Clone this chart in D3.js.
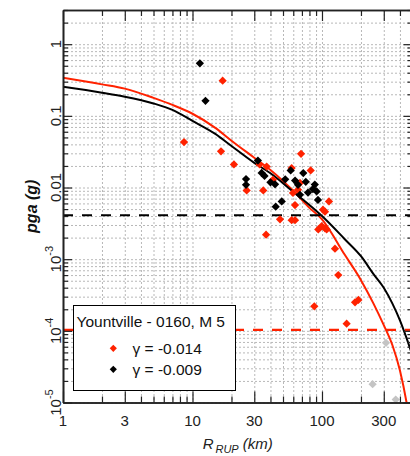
<!DOCTYPE html>
<html>
<head>
<meta charset="utf-8">
<script src="https://cdn.jsdelivr.net/npm/d3@7"></script>
<style>
body { margin: 0; background: #fff; }
svg { display: block; background: #fff; font-family: 'Liberation Sans', Arial, sans-serif; }
.grid line { stroke: #b8b8b8; stroke-dasharray: 2, 2; }
.grid path { display: none; }
.axis path, .axis line { stroke: #222; }
.axis path { stroke-width: 1.6; }
.axis line { stroke-width: 1.2; }
.ticklabel { font-family: 'Liberation Sans Narrow', 'Liberation Sans', Arial, sans-serif; font-size: 15px; fill: #222; }
</style>
</head>
<body>
<svg width="410" height="456"></svg>
<script>
// axis ticks and labels
const xTicks = [1, 3, 10, 30, 100, 300];
const xTickLabels = ['1', '3', '10', '30', '100', '300'];
const yTicks = [1e-5, 1e-4, 1e-3, 0.01, 0.1, 1];
const yTickLabels = ['10^-5', '10^-4', '10^-3', '0.01', '0.1', '1'];

// fitted curves
const curveDist = [1, 2, 3, 5, 7, 10, 15, 20, 30, 40, 60, 80, 100, 150, 200, 250, 300, 350, 400, 450, 500];
const redCurve = [0.34, 0.275, 0.24, 0.178, 0.142, 0.107, 0.068, 0.045, 0.026, 0.0176, 0.009, 0.0052, 0.0036, 0.00115, 5.1e-4, 2.4e-4, 1.2e-4, 6.3e-5, 2.8e-5, 1.0e-5, 3e-6];
const blackCurve = [0.254, 0.21, 0.185, 0.149, 0.121, 0.085, 0.056, 0.038, 0.0221, 0.0158, 0.0087, 0.0057, 0.004, 0.0019, 0.0011, 6.2e-4, 4.0e-4, 2.4e-4, 1.4e-4, 7.9e-5, 4.5e-5];

// horizontal reference levels
const blackLevel = 0.0041;
const redLevel = 1.03e-4;

// recordings
const redDist = [8.6, 17.1, 16.6, 20.9, 26.2, 35.2, 37.4, 37.0, 41.8, 47.4, 58.3, 61.9, 58.3, 68.9, 81.8, 67.6, 61.9, 59.7, 65.3, 101.8, 105.5, 113.2, 93.6, 99.5, 105.5, 108.7, 126, 133.6, 87.2, 180, 191, 155, 33];
const redPga = [0.043, 0.31, 0.032, 0.021, 0.0091, 0.0091, 0.0196, 0.0022, 0.0128, 0.0036, 0.0035, 0.0035, 0.0187, 0.0295, 0.0173, 0.0116, 0.0057, 0.0084, 0.0093, 0.0049, 0.0046, 0.0064, 0.0026, 0.0029, 0.0027, 0.0026, 0.0014, 0.0006, 0.00022, 0.00025, 0.00027, 0.000126, 0.021];
const blackDist = [11.4, 12.6, 25.9, 25.9, 32.0, 34.2, 36, 43.4, 48.9, 43.9, 57.3, 71.7, 65.3, 67.6, 91.0, 93.1, 52, 75, 85, 88, 78, 62, 40];
const blackPga = [0.54, 0.162, 0.0131, 0.0109, 0.0238, 0.016, 0.0145, 0.0111, 0.0064, 0.0054, 0.0173, 0.0159, 0.0109, 0.0079, 0.0088, 0.0067, 0.013, 0.012, 0.0095, 0.011, 0.0085, 0.0125, 0.0118];
const grayDist = [312, 246, 371];
const grayPga = [6.8e-5, 1.8e-5, 1.1e-5];

const legendTitle = 'Yountville - 0160, M 5';
const legendLabels = ['γ = -0.014', 'γ = -0.009'];
const legendColors = ['#ff2200', '#000000'];

const svg = d3.select('svg');

const margin = { left: 63, top: 10 };
const width = 349.5;
const height = 392.5;

const chart = svg.append('g')
    .attr('transform', `translate(${margin.left}, ${margin.top})`);

const xScale = d3.scaleLog().domain([1, 500]).range([0, width]);
const yScale = d3.scaleLog().domain([1e-5, 3]).range([height, 0]);

svg.append('defs').append('clipPath')
    .attr('id', 'plotclip')
    .append('rect')
    .attr('width', width)
    .attr('height', height);

// dotted grid
chart.append('g')
    .attr('class', 'grid')
    .call(d3.axisBottom(xScale).tickValues(xScale.ticks()).tickSize(height).tickFormat(''));
chart.append('g')
    .attr('class', 'grid')
    .call(d3.axisRight(yScale).tickValues(yScale.ticks()).tickSize(width).tickFormat(''));

const plot = chart.append('g').attr('clip-path', 'url(#plotclip)');

const line = d3.line()
    .x((d) => xScale(d[0]))
    .y((d) => yScale(d[1]))
    .curve(d3.curveMonotoneX);

plot.append('path')
    .datum(curveDist.map((d, i) => [d, redCurve[i]]))
    .attr('fill', 'none')
    .attr('stroke', '#ff2200')
    .attr('stroke-width', 2)
    .attr('d', line);

plot.append('path')
    .datum(curveDist.map((d, i) => [d, blackCurve[i]]))
    .attr('fill', 'none')
    .attr('stroke', '#000')
    .attr('stroke-width', 2)
    .attr('d', line);

plot.append('line')
    .attr('x1', 0).attr('x2', width)
    .attr('y1', yScale(blackLevel)).attr('y2', yScale(blackLevel))
    .attr('stroke', '#000').attr('stroke-width', 2.2)
    .attr('stroke-dasharray', '10,9');

plot.append('line')
    .attr('x1', 0).attr('x2', width)
    .attr('y1', yScale(redLevel)).attr('y2', yScale(redLevel))
    .attr('stroke', '#ff2200').attr('stroke-width', 2.2)
    .attr('stroke-dasharray', '10,9');

const diamond = d3.symbol().type(d3.symbolSquare).size(34);

const drawPoints = (dist, pga, color) => {
    plot.append('g')
        .selectAll('path')
        .data(dist.map((d, i) => [d, pga[i]]))
        .join('path')
        .attr('d', diamond)
        .attr('transform', (d) => `translate(${xScale(d[0])}, ${yScale(d[1])}) rotate(45)`)
        .attr('fill', color);
};

drawPoints(grayDist, grayPga, '#c4c4c4');
drawPoints(redDist, redPga, '#ff2200');
drawPoints(blackDist, blackPga, '#000');

// legend
const legend = svg.append('g');
legend.append('rect')
    .attr('x', 73.5).attr('y', 305.5)
    .attr('width', 162).attr('height', 85)
    .attr('fill', '#fff').attr('stroke', '#000').attr('stroke-width', 1);
legend.append('text')
    .attr('x', 76.5).attr('y', 327)
    .attr('font-size', 15.5)
    .attr('fill', '#111')
    .text(legendTitle);
legendLabels.forEach((label, i) => {
    legend.append('path')
        .attr('d', d3.symbol().type(d3.symbolSquare).size(26))
        .attr('transform', `translate(113.3, ${348.3 + i * 21}) rotate(45)`)
        .attr('fill', legendColors[i]);
    legend.append('text')
        .attr('x', 132.5).attr('y', 354 + i * 21)
        .attr('font-size', 15.5)
        .attr('fill', '#111')
        .text(label);
});

// axes (ticks pointing inward)
const xMinor = xScale.ticks().filter((d) => !xTicks.includes(d));
const yMinor = yScale.ticks().filter((d) => !yTicks.some((t) => Math.abs(t - d) / t < 1e-6));

const addAxis = (axisFn, transform, values, size) => {
    chart.append('g')
        .attr('class', 'axis')
        .attr('transform', transform)
        .call(axisFn.tickValues(values).tickSizeInner(-size).tickSizeOuter(0).tickFormat(''));
};

addAxis(d3.axisBottom(xScale), `translate(0, ${height})`, xMinor, 6);
addAxis(d3.axisBottom(xScale), `translate(0, ${height})`, xTicks, 11);
addAxis(d3.axisTop(xScale), 'translate(0, 0)', xMinor, 6);
addAxis(d3.axisTop(xScale), 'translate(0, 0)', xTicks, 11);
addAxis(d3.axisLeft(yScale), 'translate(0, 0)', yMinor, 5);
addAxis(d3.axisLeft(yScale), 'translate(0, 0)', yTicks, 9);
addAxis(d3.axisRight(yScale), `translate(${width}, 0)`, yMinor, 5);
addAxis(d3.axisRight(yScale), `translate(${width}, 0)`, yTicks, 9);

// tick labels
chart.append('g')
    .selectAll('text')
    .data(xTicks)
    .join('text')
    .attr('class', 'ticklabel')
    .attr('x', (d) => xScale(d))
    .attr('y', height + 23)
    .attr('text-anchor', 'middle')
    .text((d, i) => xTickLabels[i]);

chart.append('g')
    .selectAll('text')
    .data(yTicks)
    .join('text')
    .attr('class', 'ticklabel')
    .attr('transform', (d) => `translate(-2, ${yScale(d)}) rotate(-90)`)
    .attr('text-anchor', 'middle')
    .each(function (d, i) {
        const parts = yTickLabels[i].split('^');
        const t = d3.select(this);
        t.append('tspan').text(parts[0]);
        if (parts[1]) {
            t.append('tspan')
                .attr('dy', -8)
                .attr('font-size', 11)
                .text(parts[1]);
        }
    });

// axis titles
svg.append('text')
    .attr('transform', `translate(37, ${margin.top + height / 2}) rotate(-90)`)
    .attr('text-anchor', 'middle')
    .attr('font-size', 16)
    .attr('font-weight', 'bold')
    .attr('font-style', 'italic')
    .attr('fill', '#111')
    .text('pga (g)');

const xLabel = svg.append('text')
    .attr('x', margin.left + width / 2)
    .attr('y', 449)
    .attr('text-anchor', 'middle')
    .attr('font-size', 15)
    .attr('font-style', 'italic')
    .attr('fill', '#222');
xLabel.append('tspan').text('R');
xLabel.append('tspan').attr('font-size', 11).attr('dy', 4).attr('dx', 2).text('RUP');
xLabel.append('tspan').attr('dy', -4).text(' (km)');
</script>
</body>
</html>
